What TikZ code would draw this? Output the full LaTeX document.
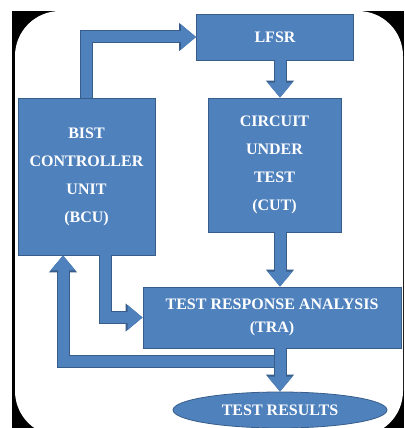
\documentclass[tikz,border=0pt]{standalone}
\usepackage{fontspec}
\setmainfont{Liberation Serif}
\usetikzlibrary{arrows.meta,shapes.geometric}

\definecolor{boxblue}{HTML}{4F81BD}
\definecolor{rimblue}{HTML}{385D8A}

\tikzset{
	block/.style={rectangle, draw=rimblue, fill=boxblue, thick, text=white, align=center,
		font=\fontsize{16}{28}\selectfont\bfseries, inner sep=0pt},
	fat/.style={draw=boxblue, line width=11pt, -{Triangle[width=24pt,length=15pt]},
		preaction={draw=rimblue, line width=13pt, -{Triangle[width=27pt,length=17pt]}}},
}

\begin{document}
\begin{tikzpicture}[x=1pt, y=-1pt]
	\useasboundingbox (0,0) rectangle (404,428);
	\fill[black] (12,11) rectangle (404,428);
	\fill[white, rounded corners=45pt] (15,11) rectangle (403,436);

	\node at (275,37) [block, minimum width=157pt, minimum height=46pt] (lfsr) {LFSR};
	\node at (86.5,176.5) [block, minimum width=137pt, minimum height=157pt] (bcu) {BIST\\CONTROLLER\\UNIT\\(BCU)};
	\node at (274.5,165) [block, minimum width=133pt, minimum height=134pt] (cut) {CIRCUIT\\UNDER\\TEST\\(CUT)};
	\node at (272,317.5) [block, minimum width=258pt, minimum height=61pt, font=\fontsize{16}{23}\selectfont\bfseries] (tra) {TEST RESPONSE ANALYSIS\\(TRA)};
	\node at (280,410) [block, ellipse, minimum width=214pt, minimum height=36pt] (res) {TEST RESULTS};
	\coordinate (fb) at (280,361);

	\draw [fat] (bcu.north) |- (lfsr.west);
	\draw [fat] (lfsr.south -| res.north) -- (cut.north -| res.north);
	\draw [fat] (cut.south -| res.north) -- (tra.north -| res.north);
	\draw [fat] ([xshift=18.5pt]bcu.south) |- (tra.west);
	\draw [fat] (fb) -| ([xshift=-23.5pt]bcu.south);
	\draw [fat] (tra.south -| res.north) -- (res.north);

\end{tikzpicture}
\end{document}
